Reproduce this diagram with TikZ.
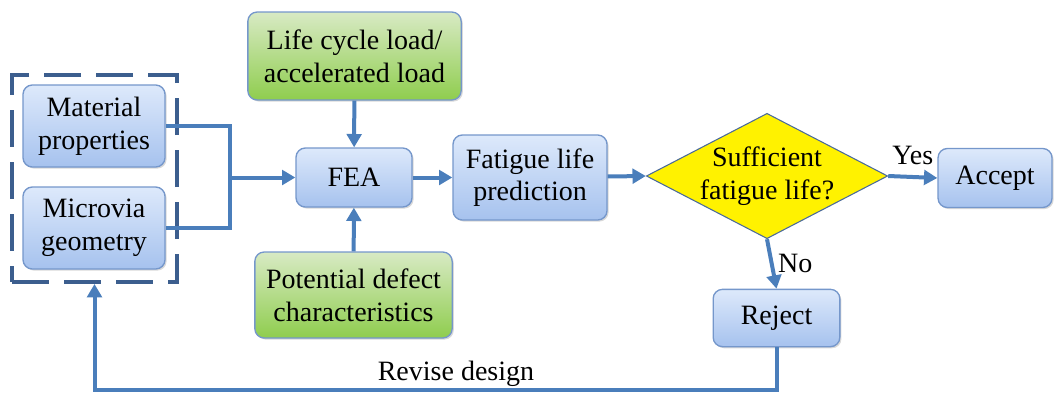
\documentclass[tikz,border=0pt]{standalone}
\usepackage{fontspec}
\setmainfont{Liberation Serif}
\usetikzlibrary{shapes.geometric,arrows.meta,shadows,positioning}

\definecolor{bluetop}{HTML}{DDE9FB}
\definecolor{bluebot}{HTML}{A6C2EE}
\definecolor{greentop}{HTML}{D8EAC4}
\definecolor{greenbot}{HTML}{8FCD4E}
\definecolor{boxedge}{HTML}{7597CB}
\definecolor{linkblue}{HTML}{4A7EBB}
\definecolor{groupblue}{HTML}{3C5E8E}
\definecolor{decedge}{HTML}{4A6A9A}

\begin{document}
\begin{tikzpicture}[x=0.75pt, y=-0.75pt,
  font=\fontsize{21}{24.5}\selectfont,
  bluebox/.style={draw=boxedge, line width=1pt, rounded corners=7pt, top color=bluetop, bottom color=bluebot, align=center, inner sep=0pt, drop shadow={shadow xshift=1.2pt, shadow yshift=-1.2pt, opacity=0.3}},
  greenbox/.style={bluebox, top color=greentop, bottom color=greenbot},
  link/.style={draw=linkblue, line width=3pt},
  flow/.style={link, -{Triangle[length=10pt, width=11pt]}}]
\useasboundingbox (0,0) rectangle (1055,396);

% inputs
\node[bluebox, minimum width=106.5pt, minimum height=61.5pt] (mat) at (94,126) {Material\\properties};
\node[bluebox, minimum width=106.5pt, minimum height=61.5pt] (geo) at (94,228) {Microvia\\geometry};
\node[draw=groupblue, line width=3pt, dash pattern=on 28pt off 11pt, minimum width=123.75pt, minimum height=155.25pt] (grp) at (94.5,178.5) {};
\node[greenbox, minimum width=160pt, minimum height=66pt] (load) at (354.5,56) {Life cycle load/\\accelerated load};
\node[greenbox, minimum width=148pt, minimum height=64.5pt] (defect) at (353.5,295) {Potential defect\\characteristics};

% analysis and decision
\node[bluebox, minimum width=87pt, minimum height=44.25pt] (fea) at (354,177.5) {FEA};
\node[bluebox, minimum width=115.5pt, minimum height=63.75pt] (life) at (530,177.5) {Fatigue life\\prediction};
\node[diamond, draw=decedge, line width=0.8pt, fill=yellow, inner sep=0pt, minimum width=181pt, minimum height=94pt,
  label={[align=center]center:Sufficient\\fatigue life?}] (dec) at (767,176) {};
\node[bluebox, minimum width=85.5pt, minimum height=44.25pt] (acc) at (995,178) {Accept};
\node[bluebox, minimum width=95pt, minimum height=43pt] (rej) at (776.5,318) {Reject};

\coordinate (jn) at (230,177.5);
\coordinate (rb) at (rej.south |- 0,390);

\draw[link] (mat.east) -| (jn);
\draw[link] (geo.east) -| (jn);
\draw[flow] (jn) -- (fea.west);
\draw[flow] (load) -- (fea);
\draw[flow] (defect) -- (fea);
\draw[flow] (fea) -- (life);
\draw[flow] (life) -- (dec.west);
\draw[flow] (dec.east) -- node[above=4pt] {Yes} (acc.west);
\draw[flow] (dec.south) -- node[right] {No} (rej.north);
\draw[flow] (rej.south) -- (rb) -| node[pos=0.235, above=-2pt] {Revise design} (grp.south);
\end{tikzpicture}
\end{document}
